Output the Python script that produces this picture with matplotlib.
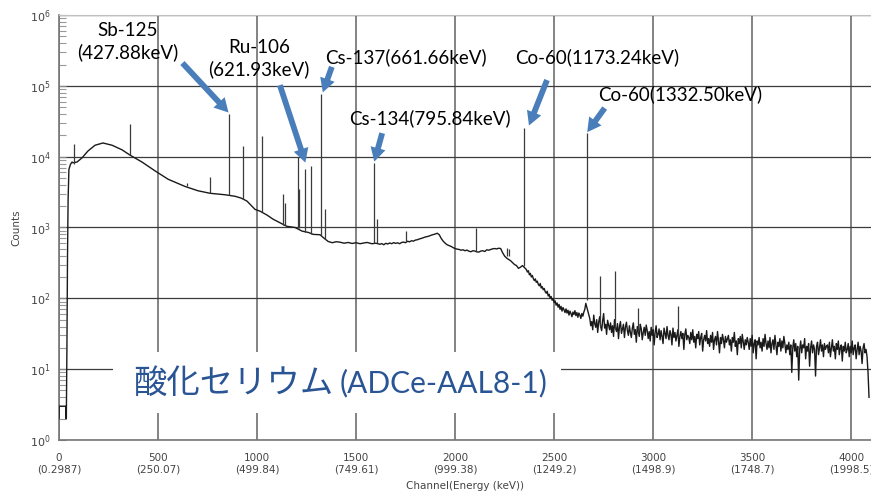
import matplotlib

matplotlib.use("Agg")
import matplotlib.pyplot as plt
import numpy as np
from matplotlib.patches import Rectangle
from matplotlib.ticker import FixedLocator, LogLocator, NullFormatter

# continuum up to ~1600 ch (smooth part of the spectrum)
low_ch = [0, 1, 34, 35, 37, 40, 43, 46, 50, 58,
          66, 70, 91, 116, 146, 182, 222, 268, 318, 359,
          419, 485, 551, 636, 702, 763, 838, 889, 920, 949,
          990, 1015, 1050, 1081, 1120, 1150, 1192, 1227, 1260, 1283,
          1318, 1340, 1359, 1380, 1400, 1419, 1440, 1460, 1480, 1500,
          1520, 1540, 1556, 1580, 1600]
low_counts = [2, 3, 3, 2, 2, 20, 400, 2500, 6600, 7800,
              8400, 8200, 8400, 9600, 12000, 14500, 15600, 14500, 12500, 10500,
              8400, 6300, 4800, 3800, 3300, 3040, 2900, 2760, 2600, 2360,
              1800, 1700, 1500, 1310, 1150, 1040, 1000, 890, 850, 800,
              790, 700, 635, 610, 630, 620, 600, 615, 595, 610,
              590, 605, 615, 590, 600]

# 1620 - 2340 ch, 10 ch steps
mid_ch = np.arange(1620, 2341, 10)
mid_counts = [580, 592, 571, 598, 585, 605, 590, 612, 597, 608,
              590, 615, 622, 610, 640, 628, 650, 642, 665, 672,
              690, 702, 718, 735, 745, 760, 780, 795, 810, 830,
              790, 700, 640, 600, 570, 555, 540, 520, 505, 495,
              490, 478, 485, 470, 480, 462, 455, 470, 465, 452,
              450, 465, 470, 458, 485, 478, 490, 500, 505, 498,
              510, 505, 440, 395, 370, 355, 340, 320, 300, 290,
              265, 275, 290]

# between the two Co-60 lines, 5 ch steps
co_ch = np.arange(2360, 2661, 5)
co_counts = [255, 235, 245, 215, 225, 200, 210, 190, 178, 188,
             168, 175, 158, 150, 162, 140, 146, 132, 138, 124,
             118, 126, 108, 114, 100, 106, 94, 99, 87, 92,
             80, 86, 75, 82, 70, 77, 66, 74, 69, 63,
             71, 62, 68, 58, 66, 61, 55, 64, 59, 67,
             57, 63, 54, 62, 58, 52, 61, 56, 64, 70,
             85]

# high energy tail, 5 ch steps
tail_ch = np.arange(2680, 4091, 5)
tail_counts = [52, 41, 47, 36, 58, 44, 39, 50, 33, 46, 55, 40, 35, 48, 61, 38, 43, 31, 49, 42,
               36, 45, 33, 41, 29, 50, 38, 34, 44, 27, 40, 47, 32, 37, 43, 28, 39, 46, 35, 30,
               41, 33, 28, 38, 45, 31, 36, 24, 40, 34, 29, 43, 37, 26, 33, 39, 30, 42, 35, 27,
               34, 25, 39, 30, 36, 22, 33, 41, 28, 31, 37, 26, 35, 29, 23, 38, 32, 27, 40, 30,
               26, 35, 31, 22, 38, 28, 33, 25, 30, 36, 21, 29, 34, 27, 32, 19, 31, 37, 26, 30,
               28, 23, 33, 26, 36, 24, 29, 20, 31, 27, 34, 22, 28, 32, 18, 26, 30, 25, 35, 23,
               27, 21, 30, 24, 33, 19, 26, 29, 22, 34, 25, 17, 28, 23, 31, 26, 20, 29, 24, 27,
               30, 22, 26, 18, 28, 24, 33, 21, 25, 16, 27, 23, 29, 20, 31, 24, 19, 26, 22, 28,
               24, 19, 27, 21, 30, 17, 23, 26, 14, 25, 22, 28, 20, 24, 18, 27, 21, 31, 23, 19,
               25, 20, 28, 17, 23, 26, 19, 30, 22, 16, 24, 21, 27, 18, 25, 20, 29, 23, 17, 22,
               19, 24, 16, 22, 9, 20, 26, 18, 23, 15, 21, 7, 19, 25, 17, 22, 20, 27, 14, 21,
               18, 23, 11, 20, 25, 17, 22, 19, 8, 21, 24, 16, 20, 26, 18, 22, 15, 23, 19, 21,
               22, 17, 24, 15, 20, 26, 18, 21, 14, 23, 19, 25, 16, 20, 22, 13, 21, 18, 24, 17,
               19, 23, 15, 21, 17, 25, 16, 20, 22, 14, 19, 24, 16, 21, 18, 12, 20, 23, 17, 19,
               15, 9, 4]

# photopeaks: channel, continuum under the line, top of the line
peak_ch = [76, 359, 646, 763, 856, 929, 1025, 1131, 1140, 1205,
           1212, 1244, 1272, 1324, 1343, 1592, 1606, 1753, 2106, 2263,
           2270, 2348, 2667, 2732, 2808, 2924, 3126]
peak_base = [8000, 10500, 3800, 3040, 2850, 2550, 1650, 1100, 1080, 990,
             980, 870, 810, 790, 690, 600, 600, 625, 460, 400,
             390, 290, 95, 40, 37, 33, 28]
peak_top = [15000, 29000, 4200, 5100, 40000, 14000, 19500, 2950, 2200, 9900,
            3500, 6600, 7300, 77000, 1800, 8100, 1300, 890, 980, 520,
            500, 25000, 21500, 204, 247, 74, 79]

# x axis: channel with calibrated energy underneath
tick_ch = [0, 500, 1000, 1500, 2000, 2500, 3000, 3500, 4000]
tick_kev = ["0.2987", "250.07", "499.84", "749.61", "999.38",
            "1249.2", "1498.9", "1748.7", "1998.5"]

# identified nuclides
nuclide_labels = ["Sb-125\n(427.88keV)", "Ru-106\n(621.93keV)",
                  "Cs-137(661.66keV)", "Cs-134(795.84keV)",
                  "Co-60(1173.24keV)", "Co-60(1332.50keV)"]
nuclide_ch = [856, 1244, 1324, 1592, 2348, 2667]

sample_name = "酸化セリウム"
sample_id = "(ADCe-AAL8-1)"

# label centre, arrow tail (axes fraction), arrow tip shift (ch, factor)
label_layout = [
    ((0.085, 0.938), (0.152, 0.887), (0, 1.05)),
    ((0.246, 0.898), (0.272, 0.835), (0, 1.25)),
    ((0.427, 0.901), (0.336, 0.878), (8, 1.05)),
    ((0.457, 0.758), (0.398, 0.722), (0, 1.05)),
    ((0.663, 0.901), (0.601, 0.847), (25, 1.1)),
    ((0.765, 0.814), (0.672, 0.781), (0, 1.03)),
]

ARROW_BLUE = "#4A7EBB"
TEXT_BLUE = "#2A5595"

fig = plt.figure(figsize=(8.71, 4.94), dpi=100)
ax = fig.add_axes([59 / 871, 54 / 494, 812 / 871, 425 / 494])

spec_ch = np.concatenate([low_ch, mid_ch, co_ch, tail_ch])
spec_counts = np.concatenate([low_counts, mid_counts, co_counts, tail_counts])
ax.plot(spec_ch, spec_counts, color="#1a1a1a", lw=1.0, zorder=3)
ax.vlines(peak_ch, peak_base, peak_top, color="#3a3a3a", lw=0.9, zorder=3)

ax.set_yscale("log")
ax.set_xlim(0, 4100)
ax.set_ylim(1, 1e6)

ax.xaxis.set_major_locator(FixedLocator(tick_ch))
ax.set_xticklabels([f"{c}\n({e})" for c, e in zip(tick_ch, tick_kev)])
ax.yaxis.set_major_locator(LogLocator(base=10, numticks=10))
ax.yaxis.set_minor_locator(LogLocator(base=10, subs=np.arange(2, 10), numticks=10))
ax.yaxis.set_minor_formatter(NullFormatter())
ax.tick_params(axis="x", length=0, pad=9, labelsize=7.5, labelcolor="#444")
ax.tick_params(axis="y", which="major", direction="in", length=5, pad=6,
               labelsize=8, labelcolor="#444", color="#888")
ax.tick_params(axis="y", which="minor", direction="in", length=5, width=0.8,
               color="#999")

ax.grid(axis="x", color="#6e6e6e", lw=1.2)
ax.grid(axis="y", which="major", color="#3c3c3c", lw=0.9)
ax.set_axisbelow(True)
for side in ("left", "bottom"):
    ax.spines[side].set_color("#777")
    ax.spines[side].set_linewidth(1.2)
ax.spines["top"].set_color("#c0c0c0")
ax.spines["right"].set_visible(False)

ax.set_xlabel("Channel(Energy (keV))", fontsize=7.5, color="#444", labelpad=5)
ax.set_ylabel("Counts", fontsize=7.5, color="#444", labelpad=6)

for text, ch, (txt_pos, tail, (dx, fac)) in zip(nuclide_labels, nuclide_ch, label_layout):
    top = peak_top[peak_ch.index(ch)]
    ax.annotate("", xy=(ch + dx, top * fac), xycoords="data",
                xytext=tail, textcoords="axes fraction",
                arrowprops=dict(arrowstyle="simple,head_length=1.0,head_width=1.1,tail_width=0.42",
                                mutation_scale=10, fc=ARROW_BLUE, ec="none",
                                shrinkA=0, shrinkB=0), zorder=5)
    ax.text(*txt_pos, text, transform=ax.transAxes, ha="center", va="center",
            fontsize=13.5, family="Lato", linespacing=1.3, color="black", zorder=6)

ax.add_patch(Rectangle((0.0665, 0.0635), 0.552, 0.144, transform=ax.transAxes,
                       facecolor="white", edgecolor="none", zorder=4))
ax.text(0.091, 0.134, sample_name, transform=ax.transAxes, ha="left", va="center",
        fontsize=24, family="Noto Sans CJK JP", color=TEXT_BLUE, zorder=6)
ax.text(0.346, 0.134, sample_id, transform=ax.transAxes, ha="left", va="center",
        fontsize=21.5, family="Lato", color=TEXT_BLUE, zorder=6)

fig.savefig("out.png", dpi=100)
